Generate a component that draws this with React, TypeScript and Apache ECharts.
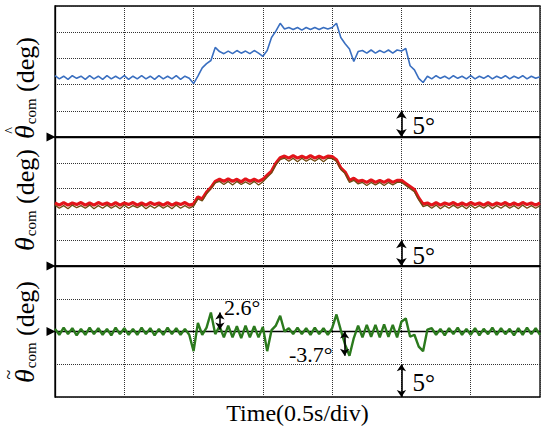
import { useEffect, useRef } from "react";
import * as echarts from "echarts";

// sampling step of the traces (s)
const DT = 1 / 32;
const T_MAX = 3.5; // 7 div x 0.5 s
const T_DIV = 0.5;

// Panel 1: estimated commutation angle (deg)
const thetaHat = [
  11.7, 11.1, 11.6, 11.0, 11.7, 11.2, 11.6, 11.0, 11.7, 11.1, 11.6, 11.0, 11.7, 11.1, 11.6, 11.1,
  11.7, 11.0, 11.6, 11.1, 11.7, 11.1, 11.6, 11.0, 11.7, 11.1, 11.6, 11.1, 11.7, 11.0, 11.6, 11.2,
  10.2, 11.6, 13.2, 14.0, 14.6, 17.1, 16.3, 15.9, 16.4, 15.9, 16.5, 16.0, 16.4, 15.9, 16.5, 16.0,
  15.4, 16.5, 19.0, 20.2, 21.7, 20.6, 20.9, 20.5, 20.9, 20.4, 20.9, 20.5, 20.9, 20.5, 20.9, 20.6,
  20.9, 21.7, 19.0, 17.8, 16.8, 14.4, 16.3, 16.5, 16.0, 16.6, 16.0, 16.5, 16.1, 16.6, 16.0, 16.6,
  16.4, 16.9, 13.6, 12.8, 11.2, 10.4, 11.6, 11.1, 11.7, 11.2, 11.6, 11.1, 11.7, 11.2, 11.6, 11.1,
  11.7, 11.1, 11.6, 11.2, 11.7, 11.1, 11.6, 11.2, 11.7, 11.1, 11.6, 11.2, 11.7, 11.1, 11.6, 11.2,
  11.5,
];

// Panel 2: commutation angle, reference (red) and actual (dark)
const thetaRef = [
  12.2, 11.8, 12.3, 11.8, 12.2, 11.9, 12.3, 11.8, 12.2, 11.8, 12.3, 11.9, 12.2, 11.8, 12.3, 11.8,
  12.2, 11.9, 12.3, 11.8, 12.2, 11.8, 12.3, 11.9, 12.2, 11.8, 12.3, 11.8, 12.2, 11.9, 12.3, 11.8,
  12.0, 13.4, 13.0, 14.3, 15.2, 16.4, 16.8, 16.4, 16.9, 16.4, 16.8, 16.3, 16.9, 16.4, 16.8, 16.4,
  16.8, 17.6, 18.4, 19.9, 21.0, 21.3, 20.9, 21.4, 20.9, 21.3, 20.9, 21.4, 20.9, 21.3, 20.9, 21.3,
  21.2, 20.6, 19.0, 18.2, 16.6, 17.0, 16.4, 16.6, 16.2, 16.7, 16.2, 16.6, 16.2, 16.7, 16.2, 16.6,
  16.6, 16.0, 15.4, 14.8, 13.2, 12.0, 12.2, 11.8, 12.3, 11.8, 12.2, 11.9, 12.3, 11.8, 12.2, 11.8,
  12.3, 11.9, 12.2, 11.8, 12.3, 11.8, 12.2, 11.9, 12.3, 11.8, 12.2, 11.8, 12.3, 11.9, 12.2, 11.8,
  12.2,
];
const thetaAct = [
  11.8, 11.2, 11.7, 11.1, 11.8, 11.3, 11.7, 11.2, 11.8, 11.1, 11.7, 11.2, 11.8, 11.2, 11.7, 11.1,
  11.8, 11.2, 11.7, 11.3, 11.8, 11.1, 11.7, 11.2, 11.8, 11.2, 11.7, 11.1, 11.8, 11.2, 11.7, 11.2,
  11.6, 13.0, 12.6, 14.0, 15.0, 16.1, 16.4, 15.8, 16.4, 15.7, 16.4, 15.8, 16.3, 15.8, 16.4, 15.7,
  16.3, 17.2, 18.0, 19.6, 20.6, 20.9, 20.3, 20.9, 20.2, 20.9, 20.3, 20.8, 20.3, 20.9, 20.2, 20.9,
  20.8, 20.3, 18.7, 17.9, 16.2, 16.6, 15.9, 16.2, 15.6, 16.2, 15.7, 16.2, 15.6, 16.2, 15.7, 16.2,
  16.2, 15.6, 15.0, 14.4, 12.8, 11.5, 11.8, 11.2, 11.8, 11.1, 11.7, 11.2, 11.8, 11.2, 11.7, 11.1,
  11.8, 11.2, 11.7, 11.2, 11.8, 11.1, 11.7, 11.2, 11.8, 11.2, 11.7, 11.1, 11.8, 11.2, 11.7, 11.2,
  11.7,
];

// Panel 3: commutation angle error (deg)
const thetaErr = [
  0.4, -0.5, 0.6, -0.4, 0.5, -0.6, 0.4, -0.5, 0.6, -0.4, 0.5, -0.5, 0.4, -0.6, 0.6, -0.4,
  0.5, -0.5, 0.4, -0.5, 0.6, -0.4, 0.5, -0.6, 0.4, -0.5, 0.6, -0.4, 0.5, -0.5, 0.4, -0.5,
  -3.0, 1.3, -0.5, 0.6, 2.9, -0.4, 0.8, -0.9, 0.9, -0.9, 0.8, -1.0, 0.9, -0.9, 0.8, -0.9,
  0.7, -3.0, 0.2, 0.9, 2.4, 0.0, 0.5, -0.4, 0.6, -0.4, 0.5, -0.5, 0.6, -0.4, 0.5, -0.5,
  0.5, 2.6, 0.2, -2.0, -3.7, -1.0, 0.9, -0.9, 1.0, -0.8, 1.0, -0.9, 1.1, -0.8, 1.0, -0.9,
  1.5, 2.0, -0.8, -0.5, -2.3, -3.0, 0.3, 0.5, -0.5, 0.4, -0.6, 0.5, -0.4, 0.6, -0.5, 0.4,
  -0.5, 0.5, -0.6, 0.4, -0.4, 0.6, -0.5, 0.5, -0.4, 0.4, -0.6, 0.5, -0.5, 0.6, -0.4, 0.5,
  -0.5,
];

// y ranges of the panels (deg)
const Y_RANGES = [
  [0, 25],
  [0, 25],
  [-10, 10],
];
const Y_DIV = 5;

// annotation values
const SCALE_T = 2.5; // where the 5° scale bars sit
const SCALE_SPAN = 5;
const ERR_MARKS = [
  { t: 1.19, from: 0.3, to: 2.9, label: "2.6°", side: "right" },
  { t: 2.09, from: 0, to: -3.7, label: "-3.7°", side: "left" },
];
const Y_LABELS = [
  { accent: "^", center: 88 },
  { accent: "", center: 200 },
  { accent: "~", center: 332 },
];
const Y_SUB = "com";
const Y_UNIT = " (deg)";
const X_LABEL = "Time(0.5s/div)";

const FONT = "Liberation Serif";
const toXY = (arr: number[]) => arr.map((v, i) => [i * DT, v]);

const measure = (text: string, fontSize: number, fontStyle = "normal") =>
  new (echarts.graphic as any).Text({ style: { text, fontSize, fontFamily: FONT, fontStyle } }).getBoundingRect().width;

export default function App() {
  const ref = useRef<HTMLDivElement>(null);
  useEffect(() => {
    const chart = echarts.init(ref.current!, null, { renderer: "svg" });
    const grids = [
      { left: 55, width: 485, top: 6, height: 131 },
      { left: 55, width: 485, top: 137, height: 129 },
      { left: 55, width: 485, top: 266, height: 131 },
    ].map((g) => ({ ...g, show: true, borderColor: "#000", borderWidth: 1.3 }));

    const xAxis = [0, 1, 2].map((i) => ({
      type: "value",
      gridIndex: i,
      min: 0,
      max: T_MAX,
      interval: T_DIV,
      axisLabel: { show: false },
      axisTick: { show: false },
      axisLine: { show: true, lineStyle: { color: "#000", width: 1.3 } },
      splitLine: { show: true, lineStyle: { type: "dotted", color: "#333", width: 1 } },
    }));
    const yAxis = [0, 1, 2].map((i) => ({
      type: "value",
      gridIndex: i,
      min: Y_RANGES[i][0],
      max: Y_RANGES[i][1],
      interval: Y_DIV,
      axisLabel: { show: false },
      axisTick: { show: false },
      axisLine: { show: true, lineStyle: { color: "#000", width: 1.3 } },
      splitLine: { show: true, lineStyle: { type: "dotted", color: "#333", width: 1 } },
    }));

    const zeroMarker = {
      silent: true,
      symbol: "triangle",
      symbolSize: 9,
      symbolRotate: -90,
      symbolOffset: [-4, 0],
      itemStyle: { color: "#000" },
      label: { show: false },
      data: [{ coord: [0, 0] }],
    };
    const arrowLine = (lines: number[][][], size = 8) => ({
      silent: true,
      symbol: ["arrow", "arrow"],
      symbolSize: size,
      lineStyle: { color: "#000", width: 1.6, type: "solid" },
      label: { show: false },
      emphasis: { disabled: true },
      data: lines.map(([a, b]) => [{ coord: a }, { coord: b }]),
    });
    const scaleLine = [[[SCALE_T, 0], [SCALE_T, SCALE_SPAN]]];

    const base = {
      type: "line",
      showSymbol: false,
      symbol: "none",
      silent: true,
    };

    chart.setOption({
      animation: false,
      backgroundColor: "#fff",
      grid: grids,
      xAxis,
      yAxis,
      series: [
        {
          ...base,
          xAxisIndex: 0,
          yAxisIndex: 0,
          data: toXY(thetaHat),
          lineStyle: { color: "#3a6fc0", width: 1.6 },
          markPoint: zeroMarker,
          markLine: arrowLine(scaleLine),
          z: 3,
        },
        {
          ...base,
          xAxisIndex: 1,
          yAxisIndex: 1,
          data: toXY(thetaRef),
          lineStyle: { color: "#e3151b", width: 3.2 },
          markPoint: zeroMarker,
          markLine: arrowLine(scaleLine),
          z: 3,
        },
        {
          ...base,
          xAxisIndex: 1,
          yAxisIndex: 1,
          data: toXY(thetaAct),
          lineStyle: { color: "#6f4a10", width: 1.3 },
          z: 4,
        },
        {
          ...base,
          xAxisIndex: 2,
          yAxisIndex: 2,
          data: toXY(thetaErr),
          lineStyle: { color: "#2b7a1d", width: 2.4 },
          markPoint: zeroMarker,
          markLine: arrowLine(
            [
              [[SCALE_T, Y_RANGES[2][0]], [SCALE_T, Y_RANGES[2][0] + SCALE_SPAN]],
              ...ERR_MARKS.map((m) => [[m.t, m.from], [m.t, m.to]]),
            ],
            7
          ),
          z: 3,
        },
      ],
    });

    const px = (g: number, p: number[]) => chart.convertToPixel({ gridIndex: g }, p) as number[];
    const graphics: any[] = [];
    const txt = (text: string, fontSize: number, extra: any = {}) => ({
      text,
      fontFamily: FONT,
      fontSize,
      fill: "#000",
      ...extra,
    });
    // 5° scale labels
    [0, 1, 2].forEach((g) => {
      const lo = g === 2 ? Y_RANGES[2][0] : 0;
      const a = px(g, [SCALE_T, lo]);
      const b = px(g, [SCALE_T, lo + SCALE_SPAN]);
      graphics.push({
        type: "text",
        x: a[0] + 11,
        y: (a[1] + b[1]) / 2 + 2,
        style: txt("5°", 25, { align: "left", verticalAlign: "middle" }),
      });
    });
    // error labels
    ERR_MARKS.forEach((m) => {
      const top = px(2, [m.t, Math.max(m.from, m.to)]);
      const bot = px(2, [m.t, Math.min(m.from, m.to)]);
      graphics.push(
        m.side === "right"
          ? {
              type: "text",
              x: top[0] + 4,
              y: top[1] - 5,
              style: txt(m.label, 22, { align: "left", verticalAlign: "middle" }),
            }
          : {
              type: "text",
              x: bot[0] - 12,
              y: bot[1] - 1,
              style: txt(m.label, 22, { align: "right", verticalAlign: "middle" }),
            }
      );
    });
    // y labels (rotated, baseline at page x = 34)
    const FS_TH = 28;
    const FS_SUB = 15;
    const FS_N = 26;
    const wTh = measure("θ", FS_TH, "italic");
    const wSub = measure(Y_SUB, FS_SUB);
    const wN = measure(Y_UNIT, FS_N);
    const L = wTh + 1 + wSub + wN;
    const x0 = -L / 2;
    const mid = (fs: number, base: number) => base - 0.3375 * fs;
    Y_LABELS.forEach((l) => {
      const children: any[] = [
        { type: "text", x: x0, y: mid(FS_TH, 0), style: txt("θ", FS_TH, { fontStyle: "italic", align: "left", verticalAlign: "middle" }) },
        { type: "text", x: x0 + wTh + 1, y: mid(FS_SUB, 2), style: txt(Y_SUB, FS_SUB, { align: "left", verticalAlign: "middle" }) },
        { type: "text", x: x0 + wTh + 1 + wSub, y: mid(FS_N, 0), style: txt(Y_UNIT, FS_N, { align: "left", verticalAlign: "middle" }) },
      ];
      if (l.accent === "^") {
        children.push({ type: "text", x: x0 + wTh * 0.62, y: -23.5, style: txt("^", 14, { align: "center", verticalAlign: "middle" }) });
      } else if (l.accent === "~") {
        children.push({ type: "text", x: x0 + wTh * 0.6, y: -25, style: txt("~", 18, { align: "center", verticalAlign: "middle" }) });
      }
      graphics.push({ type: "group", x: 34, y: l.center, rotation: Math.PI / 2, children });
    });
    // x label
    const xc = (px(2, [0, 0])[0] + px(2, [T_MAX, 0])[0]) / 2;
    graphics.push({
      type: "text",
      x: xc,
      y: 413,
      style: txt(X_LABEL, 24, { align: "center", verticalAlign: "middle" }),
    });
    chart.setOption({ graphic: graphics });

    return () => chart.dispose();
  }, []);
  return (
    <div style={{ position: "fixed", left: 0, top: 0, width: 550, height: 430, background: "#fff" }}>
      <div ref={ref} style={{ width: 550, height: 430 }} />
    </div>
  );
}
